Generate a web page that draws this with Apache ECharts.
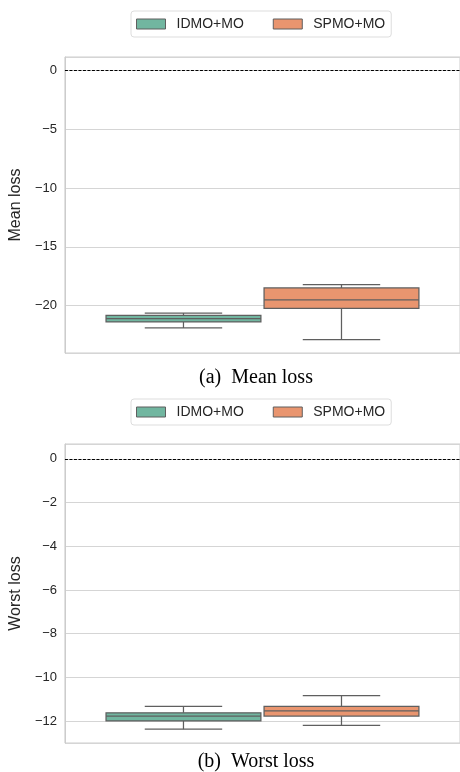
<!DOCTYPE html>
<html>
<head>
<meta charset="utf-8">
<script src="https://cdn.jsdelivr.net/npm/echarts@6/dist/echarts.min.js"></script>
<style>
  html, body { margin: 0; padding: 0; background: #fff; }
  #chart { width: 460px; height: 772px; }
</style>
</head>
<body>
<div id="chart"></div>
<script>
// box stats per method: [lower whisker, q1, median, q3, upper whisker]
var methods = ['IDMO+MO', 'SPMO+MO'];
var colors = ['#71b6a0', '#e9956f'];
var meanLoss = [
  [-21.90, -21.39, -21.11, -20.83, -20.63],
  [-22.89, -20.24, -19.51, -18.50, -18.22]
];
var worstLoss = [
  [-12.37, -11.99, -11.77, -11.62, -11.33],
  [-12.19, -11.77, -11.53, -11.33, -10.83]
];
var meanRange = [-24.03, 1.145];
var worstRange = [-13.0, 0.68];

var LINE = '#5f5f5f';
var BOX_W = 0.392;
var FONT = 'Liberation Sans, Arial, sans-serif';

function fmt(v) {
  return (v < 0 ? '\u2212' : '') + Math.abs(v);
}

function renderBox(params, api) {
  var x = api.value(0);
  var half = api.size([BOX_W, 0])[0] / 2;
  var cap = half / 2;
  var p = [1, 2, 3, 4, 5].map(function (d) { return api.coord([x, api.value(d)]); });
  var cx = p[0][0];
  var ls = { stroke: LINE, lineWidth: 1.25 };
  var fill = api.visual('color');
  return {
    type: 'group',
    children: [
      { type: 'line', shape: { x1: cx, y1: p[0][1], x2: cx, y2: p[1][1] }, style: ls },
      { type: 'line', shape: { x1: cx, y1: p[3][1], x2: cx, y2: p[4][1] }, style: ls },
      { type: 'line', shape: { x1: cx - cap, y1: p[0][1], x2: cx + cap, y2: p[0][1] }, style: ls },
      { type: 'line', shape: { x1: cx - cap, y1: p[4][1], x2: cx + cap, y2: p[4][1] }, style: ls },
      { type: 'rect', shape: { x: cx - half, y: p[3][1], width: half * 2, height: p[1][1] - p[3][1] },
        style: { fill: fill, stroke: LINE, lineWidth: 1.25 } },
      { type: 'line', shape: { x1: cx - half, y1: p[2][1], x2: cx + half, y2: p[2][1] }, style: ls }
    ]
  };
}

function boxSeries(stats, axisIdx) {
  return methods.map(function (name, i) {
    var s = {
      name: name,
      type: 'custom',
      xAxisIndex: axisIdx,
      yAxisIndex: axisIdx,
      renderItem: renderBox,
      itemStyle: { color: colors[i] },
      encode: { x: 0, y: [1, 2, 3, 4, 5] },
      data: [[(i - 0.5) * 0.4].concat(stats[i])],
      z: 3
    };
    if (i === 0) {
      s.markLine = {
        silent: true,
        symbol: 'none',
        label: { show: false },
        lineStyle: { color: '#000', type: [3, 1.5], width: 1 },
        data: [{ yAxis: 0 }],
        z: 4
      };
    }
    return s;
  });
}

function legend(top) {
  return {
    top: top,
    left: 131,
    padding: [6, 6, 6, 5],
    itemWidth: 29,
    itemHeight: 10,
    itemGap: 29,
    borderColor: '#dddddd',
    borderWidth: 1,
    borderRadius: 3,
    selectedMode: false,
    textStyle: { fontFamily: FONT, fontSize: 14, color: '#262626', padding: [0, 0, 0, 6] },
    data: methods.map(function (m, i) {
      return { name: m, icon: 'rect', itemStyle: { color: colors[i], borderColor: LINE, borderWidth: 1 } };
    })
  };
}

function xAxis(idx) {
  return {
    type: 'value', gridIndex: idx, min: -0.5, max: 0.5,
    axisLine: { show: false }, axisTick: { show: false },
    axisLabel: { show: false }, splitLine: { show: false }
  };
}

function yAxis(idx, range, name, split) {
  return {
    type: 'value', gridIndex: idx, min: range[0], max: range[1], splitNumber: split,
    name: name, nameLocation: 'middle', nameGap: 30,
    nameTextStyle: { fontFamily: FONT, fontSize: 16, color: '#262626' },
    axisLine: { show: true, onZero: false, lineStyle: { color: '#cccccc' } },
    axisTick: { show: false },
    axisLabel: { fontFamily: FONT, fontSize: 13, color: '#262626', margin: 8,
      showMinLabel: false, showMaxLabel: false, formatter: fmt },
    splitLine: { lineStyle: { color: '#d5d5d5', width: 1 } }
  };
}

var chart = echarts.init(document.getElementById('chart'), null, { renderer: 'canvas' });
chart.setOption({
  animation: false,
  backgroundColor: '#fff',
  legend: [legend(11), legend(399)],
  grid: [
    { left: 61, width: 399, top: 57, height: 296, show: true, borderColor: '#cccccc', borderWidth: 1 },
    { left: 61, width: 399, top: 444, height: 299, show: true, borderColor: '#cccccc', borderWidth: 1 }
  ],
  xAxis: [xAxis(0), xAxis(1)],
  yAxis: [yAxis(0, meanRange, 'Mean loss', 5), yAxis(1, worstRange, 'Worst loss', 7)],
  graphic: [
    { type: 'text', x: 256, y: 378, style: { text: '(a)  Mean loss', align: 'center', verticalAlign: 'middle',
      font: '20px "Liberation Serif", "Times New Roman", serif', fill: '#000' } },
    { type: 'text', x: 256, y: 762, style: { text: '(b)  Worst loss', align: 'center', verticalAlign: 'middle',
      font: '20px "Liberation Serif", "Times New Roman", serif', fill: '#000' } }
  ],
  series: boxSeries(meanLoss, 0).concat(boxSeries(worstLoss, 1))
});
</script>
</body>
</html>
